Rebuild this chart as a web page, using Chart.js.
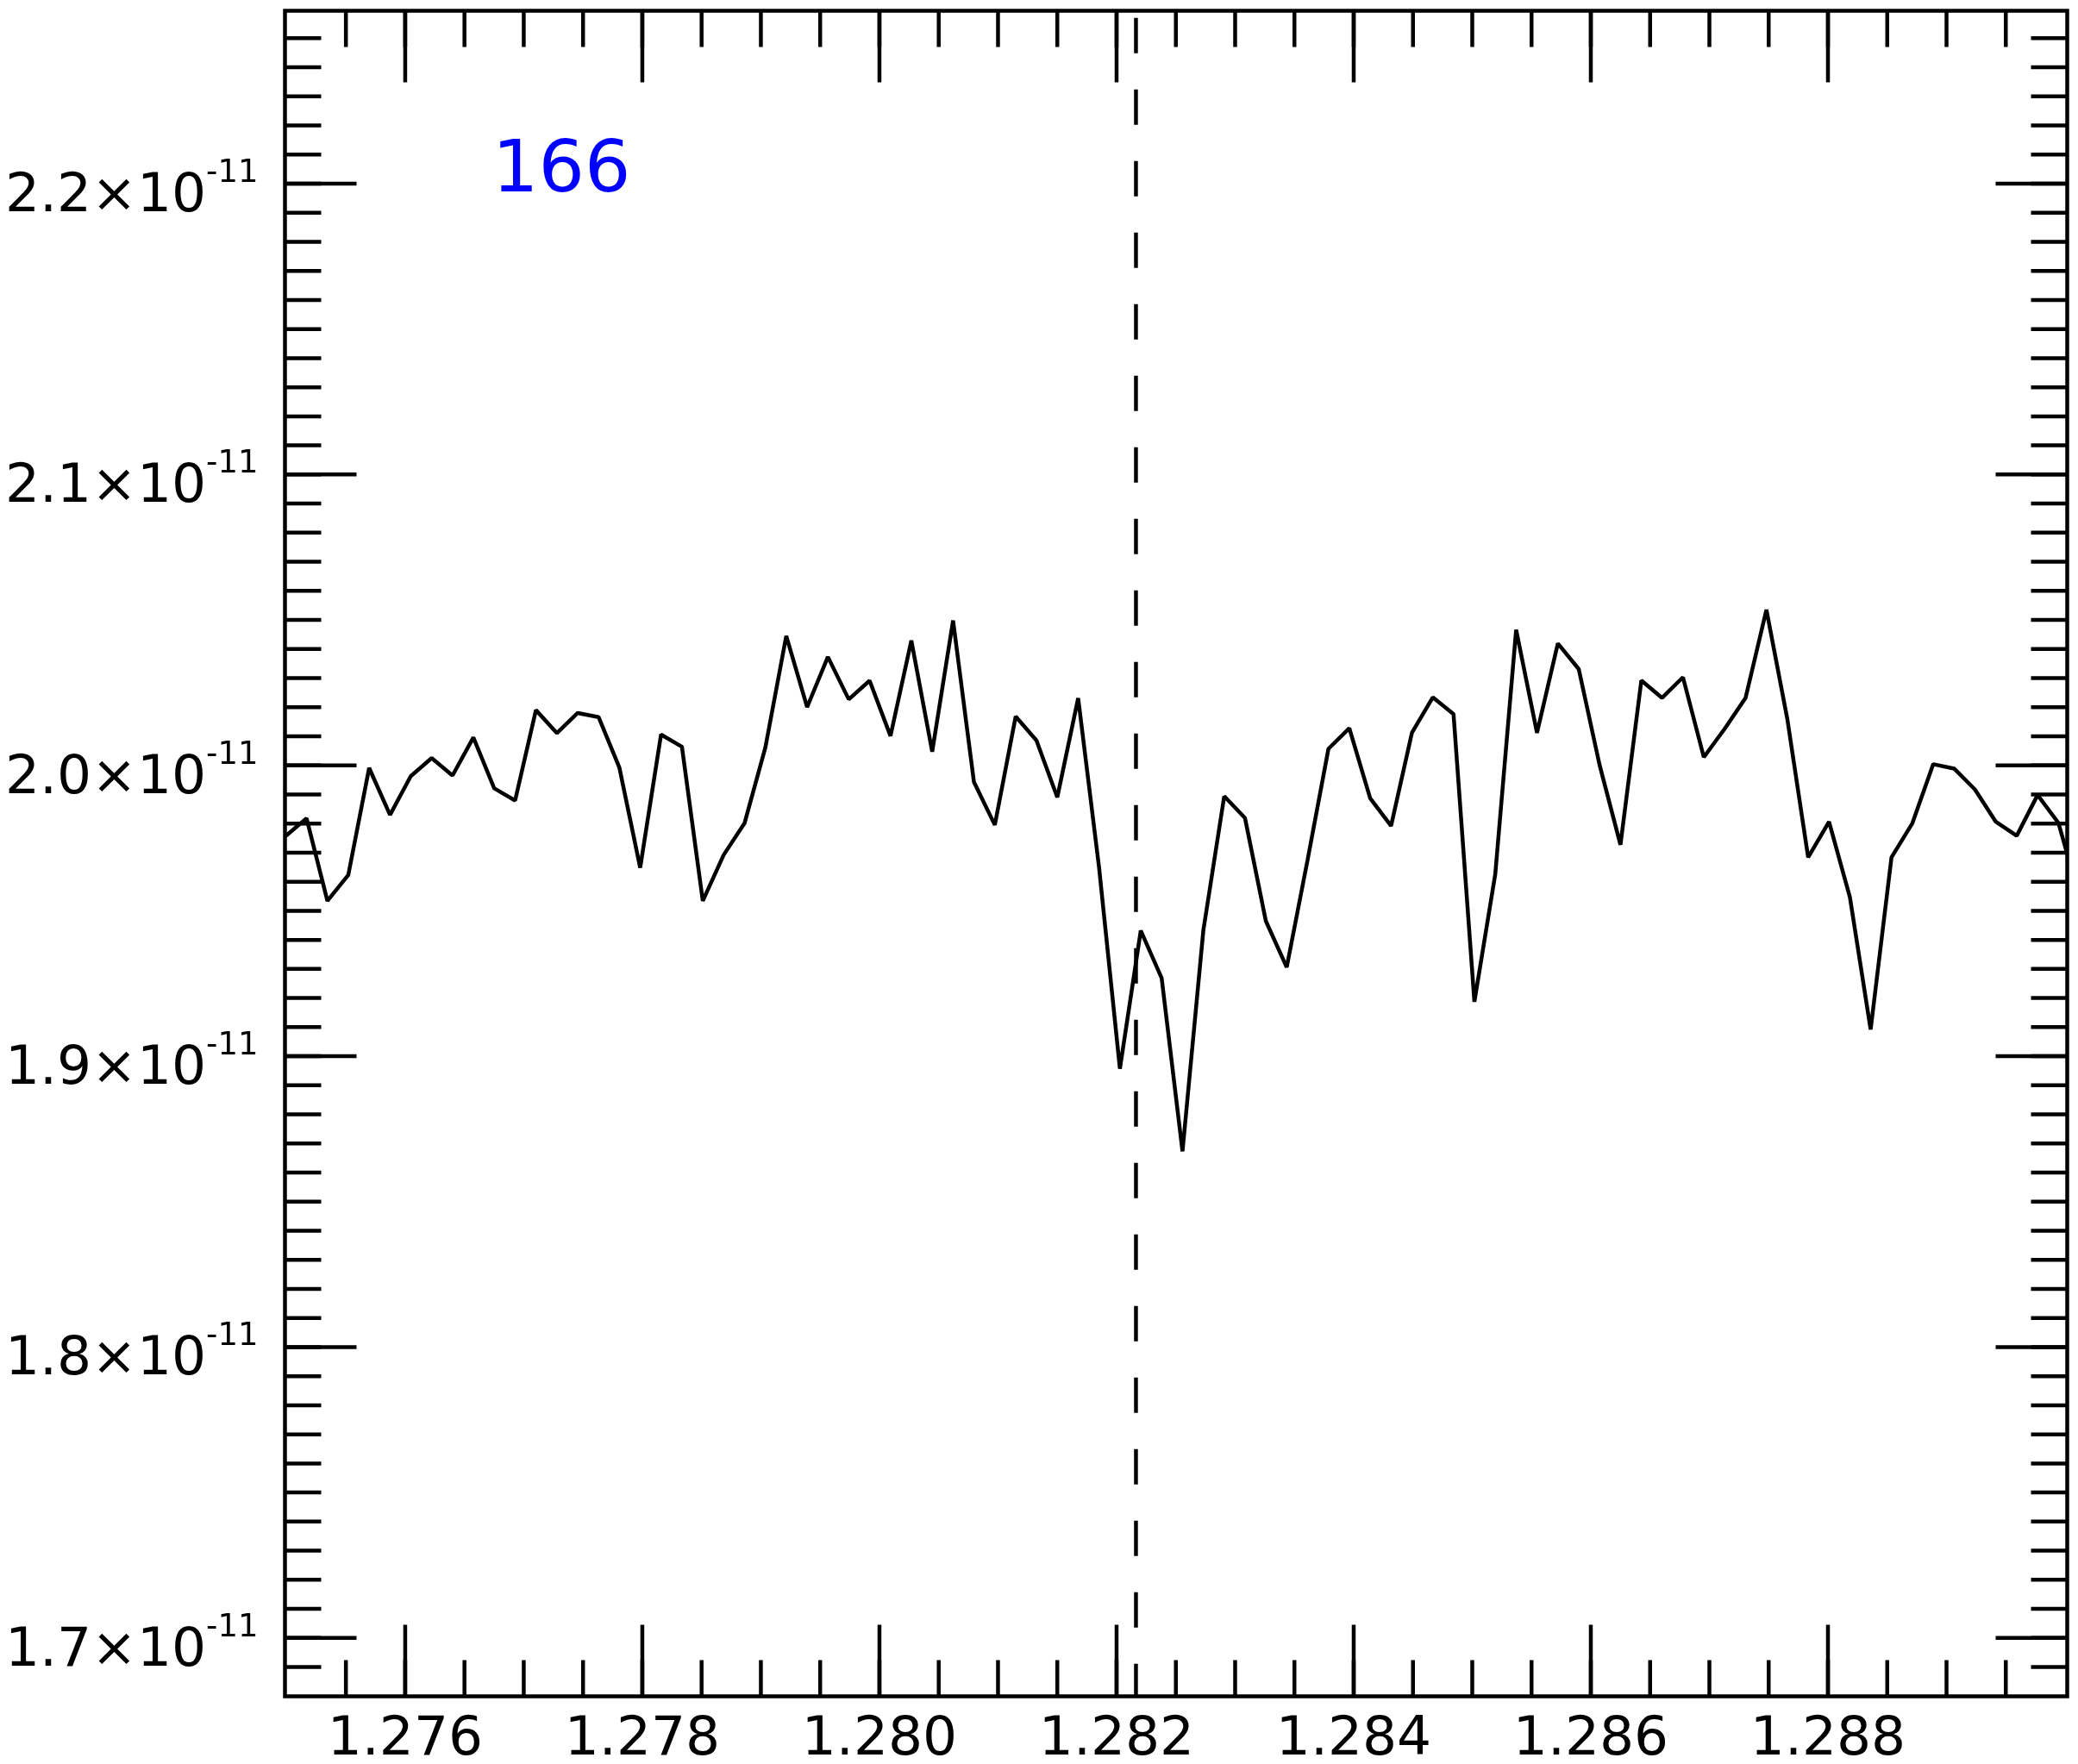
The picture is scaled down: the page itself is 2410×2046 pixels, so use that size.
<!DOCTYPE html>
<html>
<head>
<meta charset="utf-8">
<title>166</title>
<script src="https://cdn.jsdelivr.net/npm/chart.js@4.4.1/dist/chart.umd.min.js"></script>
<style>
    html, body { margin: 0; padding: 0; background: #ffffff; }
    #wrap { width: 2410px; height: 2046px; }
</style>
</head>
<body>
<div id="wrap"><canvas id="spectrumChart" width="2410" height="2046"></canvas></div>
<script>
// ==================== DATA ====================

const wavelength = [
    1.274992, 1.275168, 1.275344, 1.275520, 1.275696, 1.275872, 1.276047, 1.276223, 1.276399, 1.276575,
    1.276751, 1.276927, 1.277103, 1.277279, 1.277455, 1.277631, 1.277806, 1.277982, 1.278158, 1.278334,
    1.278510, 1.278686, 1.278862, 1.279038, 1.279214, 1.279390, 1.279565, 1.279741, 1.279917, 1.280093,
    1.280269, 1.280445, 1.280621, 1.280797, 1.280973, 1.281149, 1.281324, 1.281500, 1.281676, 1.281852,
    1.282028, 1.282204, 1.282380, 1.282556, 1.282732, 1.282908, 1.283083, 1.283259, 1.283435, 1.283611,
    1.283787, 1.283963, 1.284139, 1.284315, 1.284491, 1.284667, 1.284842, 1.285018, 1.285194, 1.285370,
    1.285546, 1.285722, 1.285898, 1.286074, 1.286250, 1.286426, 1.286601, 1.286777, 1.286953, 1.287129,
    1.287305, 1.287481, 1.287657, 1.287833, 1.288009, 1.288185, 1.288360, 1.288536, 1.288712, 1.288888,
    1.289064, 1.289240, 1.289416, 1.289592, 1.289768, 1.289944, 1.290119
];

const flux = [
    1.9757e-11, 1.9818e-11, 1.9534e-11, 1.9623e-11, 1.9991e-11, 1.9830e-11, 1.9963e-11, 2.0025e-11, 1.9965e-11, 2.0096e-11,
    1.9921e-11, 1.9879e-11, 2.0190e-11, 2.0111e-11, 2.0180e-11, 2.0166e-11, 1.9993e-11, 1.9648e-11, 2.0106e-11, 2.0064e-11,
    1.9534e-11, 1.9692e-11, 1.9801e-11, 2.0062e-11, 2.0445e-11, 2.0200e-11, 2.0373e-11, 2.0227e-11, 2.0291e-11, 2.0101e-11,
    2.0429e-11, 2.0047e-11, 2.0498e-11, 1.9943e-11, 1.9795e-11, 2.0168e-11, 2.0086e-11, 1.9890e-11, 2.0231e-11, 1.9650e-11,
    1.8957e-11, 1.9432e-11, 1.9269e-11, 1.8673e-11, 1.9433e-11, 1.9894e-11, 1.9819e-11, 1.9465e-11, 1.9306e-11, 1.9675e-11,
    2.0057e-11, 2.0128e-11, 1.9887e-11, 1.9792e-11, 2.0112e-11, 2.0234e-11, 2.0176e-11, 1.9187e-11, 1.9626e-11, 2.0466e-11,
    2.0112e-11, 2.0419e-11, 2.0331e-11, 2.0001e-11, 1.9727e-11, 2.0292e-11, 2.0232e-11, 2.0303e-11, 2.0028e-11, 2.0126e-11,
    2.0232e-11, 2.0535e-11, 2.0160e-11, 1.9684e-11, 1.9806e-11, 1.9547e-11, 1.9092e-11, 1.9684e-11, 1.9801e-11, 2.0004e-11,
    1.9989e-11, 1.9917e-11, 1.9806e-11, 1.9758e-11, 1.9898e-11, 1.9802e-11, 1.9552e-11
];

// line centre marked with the dashed line
const lineCenter = 1.2821636;

// axis ranges and ticks
const xRange = [1.274986, 1.290018];
const yRange = [1.67993e-11, 2.25943e-11];

const xTicks = [1.276, 1.278, 1.280, 1.282, 1.284, 1.286, 1.288];
const xTickLabels = ['1.276', '1.278', '1.280', '1.282', '1.284', '1.286', '1.288'];
const xMinorStep = 0.0005;

const yTicks = [1.7e-11, 1.8e-11, 1.9e-11, 2.0e-11, 2.1e-11, 2.2e-11];
const yTickMantissa = ['1.7', '1.8', '1.9', '2.0', '2.1', '2.2'];
const yTickExponent = '-11';
const yMinorStep = 0.01e-11;

const panelLabel = '166';

// ==================== FRAME / TICKS PLUGIN ====================

const FONT = '"DejaVu Sans", "Liberation Sans", sans-serif';
const MAJOR_LEN = 83;
const MINOR_LEN = 42;

const framePlugin = {
    id: 'frameTicks',
    afterDraw(chart) {
        const ctx = chart.ctx;
        const area = chart.chartArea;
        const xs = chart.scales.x;
        const ys = chart.scales.y;

        ctx.save();
        ctx.strokeStyle = '#000000';
        ctx.lineWidth = 4.5;
        ctx.lineCap = 'butt';

        // box
        ctx.strokeRect(area.left, area.top, area.right - area.left, area.bottom - area.top);

        const tick = (x1, y1, x2, y2) => {
            ctx.beginPath();
            ctx.moveTo(x1, y1);
            ctx.lineTo(x2, y2);
            ctx.stroke();
        };

        // minor ticks on x
        for (let v = Math.ceil(xRange[0] / xMinorStep) * xMinorStep; v <= xRange[1]; v += xMinorStep) {
            const px = xs.getPixelForValue(v);
            if (px < area.left + 4 || px > area.right - 4) continue;
            tick(px, area.top, px, area.top + MINOR_LEN);
            tick(px, area.bottom, px, area.bottom - MINOR_LEN);
        }
        // minor ticks on y
        for (let v = Math.ceil(yRange[0] / yMinorStep) * yMinorStep; v <= yRange[1]; v += yMinorStep) {
            const py = ys.getPixelForValue(v);
            if (py < area.top + 4 || py > area.bottom - 4) continue;
            tick(area.left, py, area.left + MINOR_LEN, py);
            tick(area.right, py, area.right - MINOR_LEN, py);
        }

        ctx.fillStyle = '#000000';

        // major x ticks + labels
        ctx.font = '63px ' + FONT;
        ctx.textAlign = 'center';
        ctx.textBaseline = 'alphabetic';
        xTicks.forEach((v, i) => {
            const px = xs.getPixelForValue(v);
            tick(px, area.top, px, area.top + MAJOR_LEN);
            tick(px, area.bottom, px, area.bottom - MAJOR_LEN);
            ctx.fillText(xTickLabels[i], px, area.bottom + 67);
        });

        // major y ticks + labels (mantissa x 10 with superscript exponent)
        yTicks.forEach((v, i) => {
            const py = ys.getPixelForValue(v);
            tick(area.left, py, area.left + MAJOR_LEN, py);
            tick(area.right, py, area.right - MAJOR_LEN, py);

            const main = yTickMantissa[i] + '\u00d710';
            ctx.font = '63px ' + FONT;
            const wMain = ctx.measureText(main).width;
            ctx.font = '37px ' + FONT;
            const wSup = ctx.measureText(yTickExponent).width;

            const right = area.left - 31;
            const start = right - wMain - wSup;
            ctx.textAlign = 'left';
            ctx.font = '63px ' + FONT;
            ctx.fillText(main, start, py + 32);
            ctx.font = '37px ' + FONT;
            ctx.fillText(yTickExponent, start + wMain, py - 2);
        });

        // panel number
        ctx.fillStyle = '#0000ff';
        ctx.font = '84px ' + FONT;
        ctx.textAlign = 'left';
        ctx.fillText(panelLabel, 571, 222);

        ctx.restore();
    }
};

// ==================== CHART ====================

const points = wavelength.map((w, i) => ({ x: w, y: flux[i] }));

const ctx = document.getElementById('spectrumChart').getContext('2d');

new Chart(ctx, {
    type: 'line',
    data: {
        datasets: [
            {
                label: 'flux',
                data: points,
                borderColor: '#000000',
                borderWidth: 4.5,
                borderJoinStyle: 'bevel',
                pointRadius: 0,
                tension: 0,
                fill: false,
                clip: 0
            },
            {
                label: 'line centre',
                data: [
                    { x: lineCenter, y: yRange[1] },
                    { x: lineCenter, y: yRange[0] }
                ],
                borderColor: '#000000',
                borderWidth: 4.5,
                borderDash: [41, 42],
                borderDashOffset: 74.8,
                pointRadius: 0,
                fill: false,
                clip: 0
            }
        ]
    },
    options: {
        responsive: false,
        maintainAspectRatio: false,
        devicePixelRatio: 1,
        animation: false,
        layout: {
            padding: { left: 330.5, top: 12.5, right: 12.5, bottom: 78.5 }
        },
        scales: {
            x: {
                type: 'linear',
                min: xRange[0],
                max: xRange[1],
                display: false
            },
            y: {
                type: 'linear',
                min: yRange[0],
                max: yRange[1],
                display: false
            }
        },
        plugins: {
            legend: { display: false },
            tooltip: { enabled: false }
        }
    },
    plugins: [framePlugin]
});
</script>
</body>
</html>
